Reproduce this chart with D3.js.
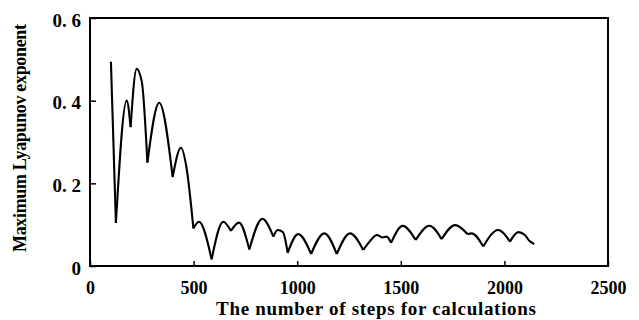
<!DOCTYPE html>
<html>
<head>
<meta charset="utf-8">
<script src="https://cdn.jsdelivr.net/npm/d3@7"></script>
<style>
  body { margin: 0; background: #fff; }
  text { font-family: "Liberation Serif", "DejaVu Serif", serif; fill: #000; }
  .line { fill: none; stroke: #000; stroke-width: 2.1px; stroke-linejoin: round; }
</style>
</head>
<body>
<div id="chart"></div>
<script>
// values
var steps = [101, 125, 177, 196, 225, 250, 277, 334, 399, 439, 465, 499, 526, 587, 643, 680, 719, 769, 832, 885, 906, 931, 954,
             1005, 1067, 1131, 1191, 1255, 1319, 1356, 1384, 1411, 1432, 1453, 1509, 1572, 1638, 1697, 1762, 1823, 1842,
             1898, 1970, 2027, 2067, 2099, 2120, 2144];
var lyap = [0.494, 0.104, 0.400, 0.336, 0.477, 0.446, 0.250, 0.395, 0.215, 0.286, 0.240, 0.091, 0.107, 0.016, 0.107, 0.085, 0.105,
            0.040, 0.114, 0.071, 0.087, 0.082, 0.032, 0.077, 0.029, 0.079, 0.029, 0.079, 0.039, 0.063, 0.075, 0.069, 0.071,
            0.056, 0.097, 0.063, 0.0975, 0.065, 0.099, 0.077, 0.079, 0.047, 0.087, 0.059, 0.082, 0.075, 0.061, 0.053];
// indices where the curve has a sharp corner (the dips)
var cusps = [1, 3, 6, 8, 11, 13, 15, 17, 19, 22, 24, 26, 28, 33, 35, 37, 39, 41, 43];

var xTicks = [0, 500, 1000, 1500, 2000, 2500];
var yTicks = [0, 0.2, 0.4, 0.6];
var yTickLabels = ["0", "0. 2", "0. 4", "0. 6"];

var width = 639, height = 320;

var x = d3.scaleLinear().domain([0, 2500]).range([90, 608]);
var y = d3.scaleLinear().domain([0, 0.6]).range([266, 18]);

var svg = d3.select("#chart").append("svg")
    .attr("width", width)
    .attr("height", height);

// frame
svg.append("rect")
    .attr("x", x(0)).attr("y", y(0.6))
    .attr("width", x(2500) - x(0)).attr("height", y(0) - y(0.6))
    .attr("fill", "none").attr("stroke", "#000").attr("stroke-width", 2);

var xAxis = svg.append("g")
    .attr("transform", "translate(0," + y(0) + ")")
    .call(d3.axisBottom(x).tickValues(xTicks).tickSize(-5).tickFormat(d3.format("d")));
xAxis.select(".domain").remove();
xAxis.selectAll("line").attr("stroke-width", 1.5);
xAxis.selectAll("text")
    .attr("y", 28).attr("dy", null)
    .attr("font-size", 18).attr("font-weight", "bold")
    .attr("font-family", "Liberation Serif");

var yAxis = svg.append("g")
    .attr("transform", "translate(" + x(0) + ",0)")
    .call(d3.axisLeft(y).tickValues(yTicks).tickSize(-6)
        .tickFormat(function(d, i) { return yTickLabels[i]; }));
yAxis.select(".domain").remove();
yAxis.selectAll("line").attr("stroke-width", 1.5);
yAxis.selectAll("text")
    .attr("x", -9).attr("dy", null).attr("y", 8)
    .attr("font-size", 19).attr("font-weight", "bold")
    .attr("font-family", "Liberation Serif");

// split the series at the dips so those stay sharp
var pts = steps.map(function(s, i) { return [s, lyap[i]]; });
var segs = [], start = 0;
cusps.concat([pts.length - 1]).forEach(function(c) {
    segs.push(pts.slice(start, c + 1));
    start = c;
});

var valueline = d3.line()
    .x(function(d) { return x(d[0]); })
    .y(function(d) { return y(d[1]); })
    .curve(d3.curveMonotoneX);

svg.selectAll(".line")
    .data(segs)
    .enter().append("path")
    .attr("class", "line")
    .attr("d", valueline);

// axis titles
svg.append("text")
    .attr("x", 376).attr("y", 315)
    .attr("text-anchor", "middle")
    .attr("font-size", 19).attr("font-weight", "bold")
    .attr("textLength", 320)
    .text("The number of steps for calculations");

svg.append("text")
    .attr("transform", "translate(26,138) rotate(-90)")
    .attr("text-anchor", "middle")
    .attr("font-size", 18).attr("font-weight", "bold")
    .attr("textLength", 228)
    .text("Maximum Lyapunov exponent");
</script>
</body>
</html>
